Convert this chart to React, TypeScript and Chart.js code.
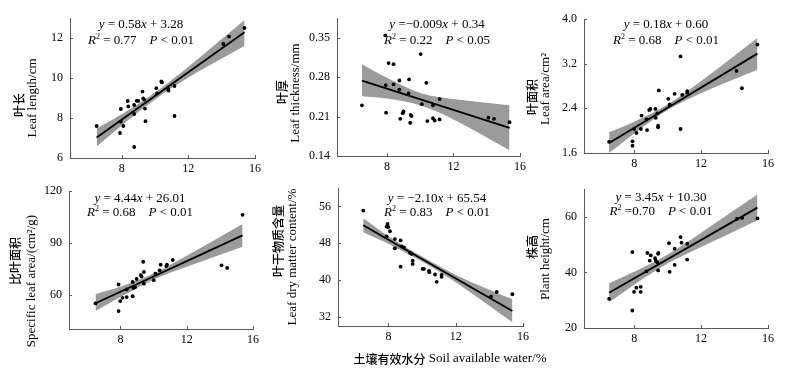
import React, { useEffect, useRef } from 'react';
import { Chart, registerables } from 'chart.js';

Chart.register(...registerables);

const SERIF = "'Liberation Serif', 'Times New Roman', serif";
const CJK = "'Noto Sans CJK SC', 'Noto Sans CJK JP', sans-serif";
const AXIS = '#5a5a5a';
const BAND = 'rgb(155,155,155)';

// ---- shared ----
const xTicks = [8, 12, 16];
const fitX = [6.5, 15.37];
const bandX = [6.5, 8, 10, 12, 15.37];

// ---- Panel 1: leaf length ----
const lenX = [6.5, 7.9, 7.95, 7.95, 8.1, 8.36, 8.4, 8.75, 8.75, 8.75, 8.9, 9.0, 9.25, 9.29, 9.35, 9.4, 9.43, 10.08, 10.12, 10.38, 10.42, 10.77, 10.81, 11.17, 11.17, 14.1, 14.44, 15.37];
const lenY = [7.6, 7.25, 8.45, 7.82, 7.6, 8.85, 8.58, 8.65, 8.2, 6.55, 8.86, 8.86, 9.32, 8.98, 8.92, 8.47, 7.84, 9.49, 9.23, 9.83, 9.78, 9.49, 9.37, 9.6, 8.1, 11.7, 12.07, 12.5];
const lenFit = [7.02, 12.29];
const lenUpper = [7.47, 8.19, 9.27, 10.56, 12.9];
const lenLower = [6.57, 7.63, 8.93, 10.02, 11.6];
const lenTicks = [6, 8, 10, 12];

// ---- Panel 2: leaf thickness ----
const thkX = [6.5, 7.9, 7.93, 7.95, 8.1, 8.4, 8.4, 8.75, 8.75, 8.8, 8.95, 9.0, 9.3, 9.33, 9.4, 9.43, 9.48, 10.03, 10.1, 10.37, 10.43, 10.77, 10.77, 10.87, 11.17, 11.17, 14.1, 14.44, 15.37];
const thkY = [0.230, 0.354, 0.266, 0.217, 0.305, 0.303, 0.267, 0.274, 0.258, 0.206, 0.216, 0.219, 0.251, 0.276, 0.199, 0.213, 0.211, 0.321, 0.232, 0.270, 0.202, 0.230, 0.207, 0.203, 0.241, 0.205, 0.208, 0.206, 0.200];
const thkFit = [0.274, 0.19];
const thkUpper = [0.303, 0.279, 0.252, 0.241, 0.230];
const thkLower = [0.246, 0.242, 0.230, 0.205, 0.150];
const thkTicks = [0.14, 0.21, 0.28, 0.35];

// ---- Panel 3: leaf area ----
const areaX = [6.5, 7.9, 7.9, 8.0, 8.14, 8.4, 8.44, 8.73, 8.77, 8.9, 8.97, 9.27, 9.29, 9.39, 9.43, 9.43, 9.47, 10.04, 10.12, 10.42, 10.77, 10.77, 10.87, 11.17, 11.17, 14.12, 14.44, 15.37];
const areaY = [1.80, 1.81, 1.73, 2.03, 1.96, 2.03, 2.27, 2.20, 2.01, 2.37, 2.39, 2.39, 2.23, 2.31, 2.06, 2.09, 2.72, 2.57, 2.47, 2.66, 3.33, 2.03, 2.64, 2.68, 2.71, 3.07, 2.76, 3.54];
const areaFit = [1.78, 3.38];
const areaUpper = [1.97, 2.16, 2.47, 2.89, 3.66];
const areaLower = [1.60, 1.95, 2.37, 2.67, 3.09];
const areaTicks = [1.6, 2.4, 3.2, 4.0];

// ---- Panel 4: specific leaf area ----
const slaX = [6.5, 7.89, 7.89, 7.99, 8.13, 8.38, 8.38, 8.74, 8.74, 8.78, 8.88, 8.98, 9.24, 9.28, 9.38, 9.42, 9.42, 10.01, 10.11, 10.37, 10.43, 10.77, 10.81, 11.16, 14.1, 14.44, 15.37];
const slaY = [54.8, 65.8, 50.4, 56.2, 58.1, 62.9, 58.5, 67.3, 59.0, 63.8, 64.2, 69.0, 71.2, 70.4, 79.0, 73.1, 66.3, 68.3, 72.1, 74.0, 77.3, 76.5, 77.3, 80.0, 76.9, 75.4, 106.2];
const slaFit = [54.9, 94.3];
const slaUpper = [60.2, 64.5, 72.2, 82.5, 100.8];
const slaLower = [50.4, 58.5, 68.6, 76.1, 87.7];
const slaTicks = [60, 90, 120];

// ---- Panel 5: leaf dry matter content ----
const ldmcX = [6.5, 7.89, 7.95, 7.99, 7.89, 8.09, 8.38, 8.38, 8.72, 8.72, 8.78, 8.92, 9.28, 9.38, 9.44, 9.44, 10.03, 10.11, 10.41, 10.43, 10.77, 10.87, 11.16, 11.16, 14.1, 14.44, 15.37];
const ldmcY = [55.1, 51.6, 52.2, 51.5, 49.5, 50.6, 48.9, 46.9, 48.6, 42.9, 47.3, 47.1, 45.9, 45.7, 44.2, 43.5, 42.4, 42.4, 42.0, 41.7, 41.2, 39.6, 41.1, 40.7, 36.4, 37.4, 36.9];
const ldmcFit = [51.9, 33.26];
const ldmcUpper = [53.4, 49.5, 45.1, 41.1, 35.8];
const ldmcLower = [50.4, 47.9, 44.0, 39.5, 30.8];
const ldmcTicks = [32, 40, 48, 56];

// ---- Panel 6: plant height ----
const phX = [6.5, 7.89, 7.89, 7.99, 8.13, 8.39, 8.39, 8.73, 8.79, 8.93, 8.99, 9.25, 9.29, 9.39, 9.43, 9.45, 9.43, 10.08, 10.12, 10.42, 10.42, 10.77, 10.83, 11.17, 11.17, 14.15, 14.45, 15.37];
const phY = [30.5, 47.3, 26.3, 33.0, 34.5, 34.8, 33.0, 40.4, 47.0, 44.2, 46.1, 45.1, 44.2, 43.6, 46.7, 47.0, 40.7, 50.5, 40.2, 42.7, 48.5, 52.7, 50.7, 50.3, 44.6, 59.2, 59.6, 59.4];
const phFit = [32.7, 63.3];
const phUpper = [36.1, 40.2, 46.4, 54.3, 68.0];
const phLower = [29.3, 35.6, 43.2, 49.1, 58.8];
const phTicks = [20, 40, 60];

// ---- text ----
type Seg = { t: string; it?: boolean; sup?: boolean };
const eqLine = (slope: string, icpt: string, eqSign = ' = '): Seg[] => [
  { t: 'y', it: true }, { t: eqSign + slope }, { t: 'x', it: true }, { t: ' + ' + icpt },
];
const statLine = (r2: string, p: string, eqSign = ' = '): Seg[] => [
  { t: 'R', it: true }, { t: '2', sup: true }, { t: eqSign + r2 + '    ' }, { t: 'P', it: true }, { t: ' < ' + p },
];

const xTitleCJK = '土壤有效水分';
const xTitleEN = ' Soil available water/%';

type Panel = {
  box: { x: number; y: number; w: number; h: number };
  area: { l: number; t: number; r: number; b: number };
  xMin: number; yMin: number; yMax: number; yTicks: number[]; dec: number;
  xs: number[]; ys: number[]; fit: number[]; up: number[]; lo: number[];
  eq: Seg[]; stat: Seg[]; ann: { cx: number; y1: number; y2: number };
  cjk: string; cjkPos: [number, number]; en: string; enPos: [number, number];
  xTitle?: boolean;
};

const panels: Panel[] = [
  {
    box: { x: 0, y: 0, w: 265, h: 175 }, area: { l: 70, t: 18, r: 255, b: 158 },
    xMin: 4.9, yMin: 6, yMax: 13, yTicks: lenTicks, dec: 0,
    xs: lenX, ys: lenY, fit: lenFit, up: lenUpper, lo: lenLower,
    eq: eqLine('0.58', '3.28'), stat: statLine('0.77', '0.01'), ann: { cx: 141, y1: 25, y2: 41 },
    cjk: '叶长', cjkPos: [19, 105], en: 'Leaf length/cm', enPos: [33, 98],
  },
  {
    box: { x: 262, y: 0, w: 268, h: 175 }, area: { l: 337, t: 18, r: 522, b: 156 },
    xMin: 5, yMin: 0.14, yMax: 0.385, yTicks: thkTicks, dec: 2,
    xs: thkX, ys: thkY, fit: thkFit, up: thkUpper, lo: thkLower,
    eq: [{ t: 'y', it: true }, { t: ' =\u22120.009' }, { t: 'x', it: true }, { t: ' + 0.34' }],
    stat: statLine('0.22', '0.05'), ann: { cx: 437, y1: 25, y2: 41 },
    cjk: '叶厚', cjkPos: [282, 92], en: 'Leaf thickness/mm', enPos: [296, 93],
  },
  {
    box: { x: 520, y: 0, w: 280, h: 175 }, area: { l: 584, t: 19, r: 768, b: 153 },
    xMin: 5, yMin: 1.6, yMax: 4.0, yTicks: areaTicks, dec: 1,
    xs: areaX, ys: areaY, fit: areaFit, up: areaUpper, lo: areaLower,
    eq: eqLine('0.18', '0.60'), stat: statLine('0.68', '0.01'), ann: { cx: 666, y1: 25, y2: 41 },
    cjk: '叶面积', cjkPos: [532, 97], en: 'Leaf area/cm²', enPos: [546, 89],
  },
  {
    box: { x: 0, y: 172, w: 265, h: 204 }, area: { l: 69, t: 191, r: 253, b: 329 },
    xMin: 4.9, yMin: 40, yMax: 120, yTicks: slaTicks, dec: 0,
    xs: slaX, ys: slaY, fit: slaFit, up: slaUpper, lo: slaLower,
    eq: eqLine('4.44', '26.01'), stat: statLine('0.68', '0.01'), ann: { cx: 140, y1: 199, y2: 213 },
    cjk: '比叶面积', cjkPos: [15, 261], en: 'Specific leaf area/(cm²/g)', enPos: [32, 281],
  },
  {
    box: { x: 262, y: 172, w: 320, h: 204 }, area: { l: 338, t: 188, r: 523, b: 326 },
    xMin: 5, yMin: 30, yMax: 60, yTicks: ldmcTicks, dec: 0,
    xs: ldmcX, ys: ldmcY, fit: ldmcFit, up: ldmcUpper, lo: ldmcLower,
    eq: eqLine('\u22122.10', '65.54'), stat: statLine('0.83', '0.01'), ann: { cx: 437, y1: 199, y2: 213 },
    cjk: '叶干物质含量', cjkPos: [278, 241], en: 'Leaf dry matter content/%', enPos: [293, 257],
    xTitle: true,
  },
  {
    box: { x: 520, y: 172, w: 280, h: 204 }, area: { l: 584, t: 189, r: 768, b: 328 },
    xMin: 5, yMin: 20, yMax: 70, yTicks: phTicks, dec: 0,
    xs: phX, ys: phY, fit: phFit, up: phUpper, lo: phLower,
    eq: eqLine('3.45', '10.30'), stat: statLine('0.70', '0.01', ' ='), ann: { cx: 661, y1: 198, y2: 212 },
    cjk: '株高', cjkPos: [532, 247], en: 'Plant height/cm', enPos: [546, 259],
  },
];

const Y_W = 30;
const X_H = 22;
const ANN_SIZE = 13;

function drawRich(ctx: CanvasRenderingContext2D, segs: Seg[], cx: number, cy: number, size: number) {
  const fontFor = (s: Seg) => `${s.it ? 'italic ' : ''}${s.sup ? Math.round(size * 0.65) : size}px ${SERIF}`;
  let total = 0;
  const widths = segs.map((s) => {
    ctx.font = fontFor(s);
    const w = ctx.measureText(s.t).width;
    total += w;
    return w;
  });
  let x = cx - total / 2;
  ctx.textAlign = 'left';
  ctx.textBaseline = 'middle';
  ctx.fillStyle = '#000';
  segs.forEach((s, i) => {
    ctx.font = fontFor(s);
    ctx.fillText(s.t, x, s.sup ? cy - size * 0.33 : cy);
    x += widths[i];
  });
}

function PanelChart({ p }: { p: Panel }) {
  const ref = useRef<HTMLCanvasElement | null>(null);
  useEffect(() => {
    if (!ref.current) return;
    const ox = p.box.x;
    const oy = p.box.y;
    const deco = {
      id: 'deco',
      afterDraw(chart: any) {
        const ctx: CanvasRenderingContext2D = chart.ctx;
        const xs = chart.scales.x;
        const ys = chart.scales.y;
        const ca = chart.chartArea;
        ctx.save();
        // inward tick marks
        ctx.strokeStyle = AXIS;
        ctx.lineWidth = 1;
        ctx.beginPath();
        xTicks.forEach((v) => {
          const px = Math.round(xs.getPixelForValue(v)) + 0.5;
          ctx.moveTo(px, ca.bottom);
          ctx.lineTo(px, ca.bottom - 3);
        });
        p.yTicks.forEach((v) => {
          const py = Math.round(ys.getPixelForValue(v)) + 0.5;
          ctx.moveTo(ca.left, py);
          ctx.lineTo(ca.left + 3, py);
        });
        ctx.stroke();
        // annotation
        drawRich(ctx, p.eq, p.ann.cx - ox, p.ann.y1 - oy, ANN_SIZE);
        drawRich(ctx, p.stat, p.ann.cx - ox, p.ann.y2 - oy, ANN_SIZE);
        // y titles
        ctx.fillStyle = '#000';
        ctx.textAlign = 'center';
        ctx.textBaseline = 'middle';
        const rot = (t: string, x: number, y: number, font: string) => {
          ctx.save();
          ctx.translate(x - ox, y - oy);
          ctx.rotate(-Math.PI / 2);
          ctx.font = font;
          ctx.fillText(t, 0, 0);
          ctx.restore();
        };
        rot(p.cjk, p.cjkPos[0], p.cjkPos[1], `500 12px ${CJK}`);
        rot(p.en, p.enPos[0], p.enPos[1], `13px ${SERIF}`);
        // x title
        if (p.xTitle) {
          const f1 = `500 12px ${CJK}`;
          const f2 = `13px ${SERIF}`;
          ctx.font = f1;
          const w1 = ctx.measureText(xTitleCJK).width;
          ctx.font = f2;
          const w2 = ctx.measureText(xTitleEN).width;
          let x = 450 - ox - (w1 + w2) / 2;
          const y = 359 - oy;
          ctx.textAlign = 'left';
          ctx.font = f1;
          ctx.fillText(xTitleCJK, x, y);
          x += w1;
          ctx.font = f2;
          ctx.fillText(xTitleEN, x, y);
        }
        ctx.restore();
      },
    };

    const chart = new Chart(ref.current, {
      type: 'scatter',
      data: {
        datasets: [
          {
            type: 'line',
            data: bandX.map((x, i) => ({ x, y: p.up[i] })),
            borderColor: 'rgba(0,0,0,0)',
            borderWidth: 0,
            pointRadius: 0,
            backgroundColor: BAND,
            fill: '+1',
            cubicInterpolationMode: 'monotone',
            order: 3,
          } as any,
          {
            type: 'line',
            data: bandX.map((x, i) => ({ x, y: p.lo[i] })),
            borderColor: 'rgba(0,0,0,0)',
            borderWidth: 0,
            pointRadius: 0,
            fill: false,
            cubicInterpolationMode: 'monotone',
            order: 4,
          } as any,
          {
            type: 'line',
            data: fitX.map((x, i) => ({ x, y: p.fit[i] })),
            borderColor: '#000',
            borderWidth: 1.8,
            pointRadius: 0,
            fill: false,
            order: 2,
          } as any,
          {
            type: 'scatter',
            data: p.xs.map((x, i) => ({ x, y: p.ys[i] })),
            backgroundColor: '#000',
            borderColor: '#000',
            borderWidth: 0,
            pointRadius: 1.9,
            order: 1,
          } as any,
        ],
      },
      options: {
        animation: false,
        responsive: false,
        devicePixelRatio: 1,
        events: [],
        layout: {
          padding: {
            left: p.area.l - p.box.x - Y_W,
            top: p.area.t - p.box.y,
            right: p.box.x + p.box.w - p.area.r,
            bottom: p.box.y + p.box.h - p.area.b - X_H,
          },
        },
        plugins: { legend: { display: false }, tooltip: { enabled: false }, title: { display: false } },
        scales: {
          x: {
            type: 'linear',
            min: p.xMin,
            max: 16,
            grid: { display: false, drawTicks: false },
            border: { display: true, color: AXIS, width: 1 },
            ticks: { color: '#000', font: { family: SERIF, size: 12 }, padding: 4, maxRotation: 0 },
            afterBuildTicks: (s: any) => { s.ticks = xTicks.map((v) => ({ value: v })); },
            afterFit: (s: any) => { s.height = X_H; },
          },
          y: {
            type: 'linear',
            min: p.yMin,
            max: p.yMax,
            grid: { display: false, drawTicks: false },
            border: { display: true, color: AXIS, width: 1 },
            ticks: {
              color: '#000',
              font: { family: SERIF, size: 12 },
              padding: 7,
              callback: (v: any) => Number(v).toFixed(p.dec),
            },
            afterBuildTicks: (s: any) => { s.ticks = p.yTicks.map((v) => ({ value: v })); },
            afterFit: (s: any) => { s.width = Y_W; },
          },
        },
      } as any,
      plugins: [deco],
    });
    return () => chart.destroy();
  }, [p]);
  return (
    <canvas
      ref={ref}
      width={p.box.w}
      height={p.box.h}
      style={{ position: 'absolute', left: p.box.x, top: p.box.y, width: p.box.w, height: p.box.h }}
    />
  );
}

export default function App() {
  return (
    <div style={{ position: 'fixed', left: 0, top: 0, width: 800, height: 376, background: '#fff', overflow: 'hidden' }}>
      {panels.map((p, i) => (
        <PanelChart key={i} p={p} />
      ))}
    </div>
  );
}
